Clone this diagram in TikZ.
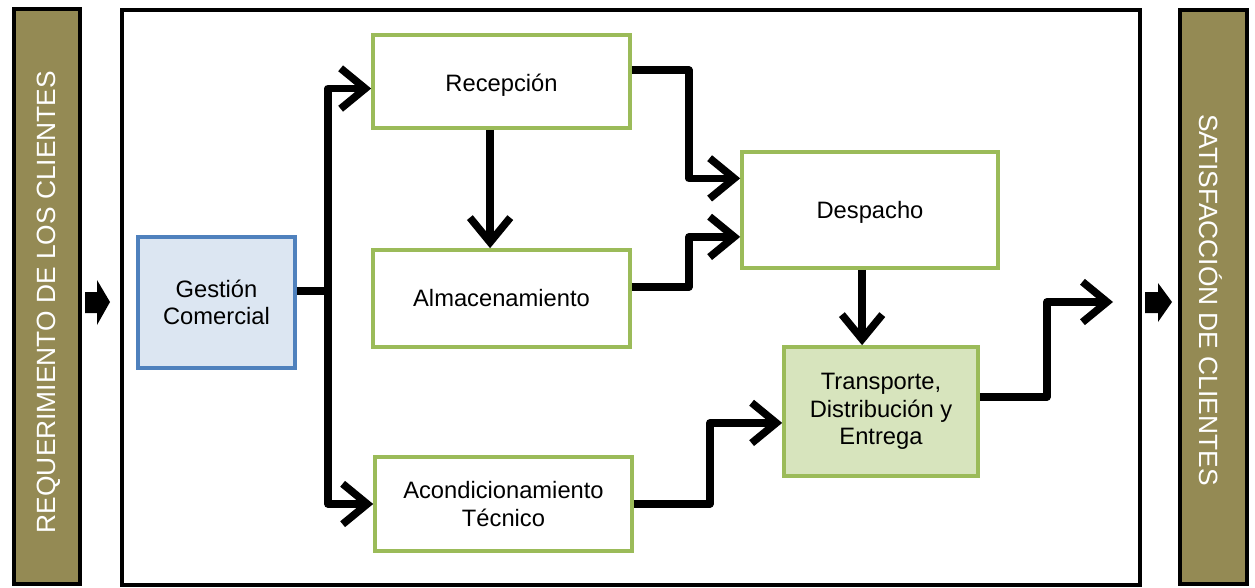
\documentclass[tikz,border=0pt]{standalone}
\usepackage{fontspec}
\setmainfont{Liberation Sans}
\usepackage{tikz}
\usetikzlibrary{arrows.meta}
\definecolor{olivo}{HTML}{948A54}
\definecolor{azulborde}{HTML}{4F81BD}
\definecolor{azulfondo}{HTML}{DCE6F2}
\definecolor{verde}{HTML}{9BBB59}
\definecolor{verdefondo}{HTML}{D7E4BD}
\tikzset{
  proceso/.style={draw=verde, line width=2.1pt, fill=white, align=center,
    font=\fontsize{13.5}{15.5}\selectfont, inner sep=2pt},
  linea/.style={line width=4.3pt, line join=round},
  flecha/.style={linea, -{Straight Barb[length=14pt,width=23pt]}},
  barra/.style={draw=black, line width=2.8pt, fill=olivo},
  rotulo/.style={text=white, font=\fontsize{15}{18}\selectfont}
}

\begin{document}
\begin{tikzpicture}[x=0.02cm, y=-0.02cm]
\useasboundingbox (0,0) rectangle (1255,588);
% barras laterales y marco
\draw[barra] (14,9) rectangle (80,584);
\draw[barra] (1180,10) rectangle (1247,584);
\draw[line width=2.3pt] (122,10) rectangle (1140,585);
\node[rotulo, rotate=90] (req) at (49,302) {REQUERIMIENTO DE LOS CLIENTES};
\node[rotulo, rotate=-90] (sat) at (1211,300) {SATISFACCIÓN DE CLIENTES};
\fill (85,292) -- (97,292) -- (97,280) -- (110,302) -- (97,325) -- (97,313) -- (85,313) -- cycle;
\fill (1145,292) -- (1158,292) -- (1158,283) -- (1172,302) -- (1158,322) -- (1158,313) -- (1145,313) -- cycle;
% procesos
\node[proceso, draw=azulborde, fill=azulfondo, minimum width=3.14cm, minimum height=2.62cm] (gestion) at (216.5,302.5) {Gestión\\Comercial};
\node[proceso, text height=14.5pt, minimum width=5.14cm, minimum height=1.86cm] (recepcion) at (501.5,81.5) {Recepción};
\node[proceso, minimum width=5.14cm, minimum height=1.94cm] (almacen) at (501.5,298.5) {Almacenamiento};
\node[proceso, minimum width=5.14cm, minimum height=1.88cm] (acond) at (503.5,504) {Acondicionamiento\\Técnico};
\node[proceso, text height=13pt, minimum width=5.12cm, minimum height=2.32cm] (despacho) at (870,210) {Despacho};
\node[proceso, fill=verdefondo, minimum width=3.88cm, minimum height=2.58cm] (transporte) at (881,411.5) {Transporte,\\Distribución y\\Entrega};
% conectores
\coordinate (tronco) at (328,291);
\coordinate (salida) at (1113,302);
\draw[linea] (gestion.east |- tronco) -- (tronco);
\draw[flecha] (tronco) |- ([yshift=-4pt]recepcion.west);
\draw[flecha] (tronco) |- (acond.west);
\draw[flecha] ([xshift=-6.5pt]recepcion.south) -- ([xshift=-6.5pt]almacen.north);
\draw[flecha] ([yshift=6.5pt]recepcion.east) -- ++(57,0) |- ([yshift=18pt]despacho.west);
\draw[flecha] ([yshift=6.5pt]almacen.east) -- ++(57,0) |- ([yshift=-15.3pt]despacho.west);
\draw[flecha] ([xshift=-4.5pt]despacho.south) -- ([xshift=-4.5pt]despacho.south |- transporte.north);
\draw[flecha] (acond.east) -- ++(76,0) |- ([yshift=-6.5pt]transporte.west);
\draw[flecha] ([yshift=8.2pt]transporte.east) -- ++(67,0) |- (salida);
\end{tikzpicture}
\end{document}
